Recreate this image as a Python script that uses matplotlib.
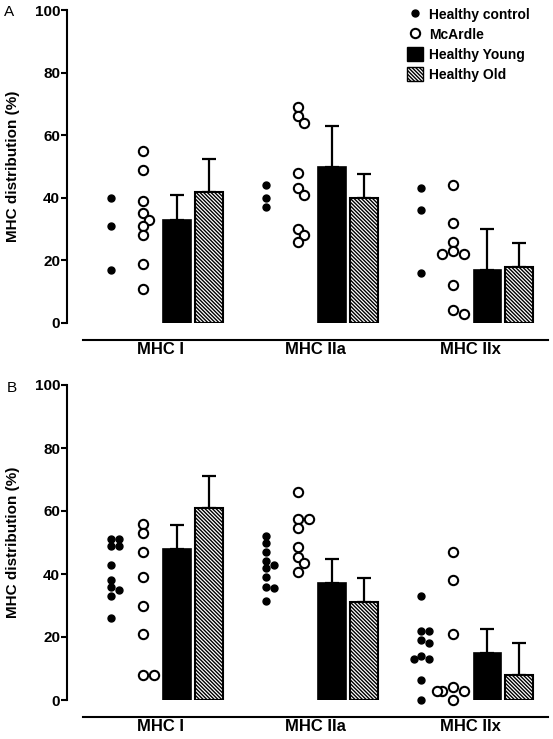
import numpy as np
import matplotlib

matplotlib.use("Agg")
import matplotlib.pyplot as plt
from matplotlib.lines import Line2D
from matplotlib.patches import Patch

plt.rcParams["font.family"] = ["Liberation Sans", "DejaVu Sans"]
plt.rcParams["hatch.linewidth"] = 1.0

categories = ["MHC I", "MHC IIa", "MHC IIx"]

# panel A
a_control = [[40, 31, 17], [44, 40, 37], [43, 36, 16]]
a_mcardle = [
    [55, 49, 39, 35, 33, 31, 28, 19, 11],
    [69, 66, 64, 48, 43, 41, 30, 28, 26],
    [44, 32, 26, 23, 22, 22, 12, 3, 4],
]
a_young_mean = [33, 50, 17]
a_young_sd = [8, 13, 13]
a_old_mean = [42, 40, 18]
a_old_sd = [10.5, 7.7, 7.5]

# panel B
b_control = [
    [51, 51, 49, 49, 43, 38, 36, 35, 33, 26],
    [52, 50, 47, 44, 43, 42, 39, 36, 35.5, 31.5],
    [33, 22, 22, 19, 18, 14, 13, 13, 6.5, 0],
]
b_mcardle = [
    [56, 53, 47, 39, 30, 21, 8, 8],
    [66, 57.5, 57.5, 54.5, 48.5, 45.5, 43.5, 40.5],
    [47, 38, 21, 4, 3, 3, 3, 0],
]
b_young_mean = [48, 37, 15]
b_young_sd = [7.6, 7.7, 7.5]
b_old_mean = [61, 31, 8]
b_old_sd = [10.1, 7.6, 10.2]

OFFS = {"ctrl": -0.316, "mca": -0.11, "young": 0.11, "old": 0.316}
BAR_W = 0.18
HATCH = "\\" * 9


def swarm_x(ax, center, values, diam_px):
    """Simple beeswarm: spread overlapping points sideways (pixel space)."""
    x0 = ax.transData.transform((center, 0))[0]
    x1 = ax.transData.transform((center + 1, 0))[0]
    px_per_unit = x1 - x0
    placed = []
    xs = np.zeros(len(values))
    order = np.argsort(values)[::-1]
    step = diam_px * 0.55
    for i in order:
        py = ax.transData.transform((center, values[i]))[1]
        for k in [0, 1, -1, 2, -2, 3, -3]:
            dx = k * step
            if all(np.hypot(dx - qx, py - qy) >= diam_px * 0.8 for qx, qy in placed):
                break
        placed.append((dx, py))
        xs[i] = center + dx / px_per_unit
    return xs


def draw_panel(ax, control, mcardle, young_mean, young_sd, old_mean, old_sd):
    ax.set_xlim(-0.6, 2.5)
    ax.set_ylim(0, 100)
    pos = np.arange(len(categories))

    ax.bar(pos + OFFS["young"], young_mean, BAR_W, color="black",
           edgecolor="black", linewidth=1.2, zorder=2)
    ax.bar(pos + OFFS["old"], old_mean, BAR_W, color="white",
           edgecolor="black", linewidth=1.5, hatch=HATCH, zorder=2)
    for off, m, s in [(OFFS["young"], young_mean, young_sd),
                      (OFFS["old"], old_mean, old_sd)]:
        ax.errorbar(pos + off, m, yerr=[np.zeros(len(m)), s], fmt="none",
                    ecolor="black", elinewidth=1.6, capsize=4.7, capthick=1.6,
                    zorder=1)

    for i in range(len(categories)):
        xs = swarm_x(ax, i + OFFS["ctrl"], control[i], 7)
        ax.plot(xs, control[i], "o", color="black", markersize=5,
                linestyle="none", zorder=3, clip_on=False)
        xs = swarm_x(ax, i + OFFS["mca"], mcardle[i], 10)
        ax.plot(xs, mcardle[i], "o", markerfacecolor="white",
                markeredgecolor="black", markeredgewidth=1.5, markersize=6.7,
                linestyle="none", zorder=3, clip_on=False)

    for side in ["top", "right"]:
        ax.spines[side].set_visible(False)
    ax.spines["left"].set_linewidth(1.5)
    ax.spines["bottom"].set_linewidth(1.5)
    ax.spines["bottom"].set_position(("outward", 12.2))
    ax.spines["bottom"].set_bounds(-0.5, 2.5)
    ax.set_yticks([0, 20, 40, 60, 80, 100])
    ax.tick_params(axis="y", length=4, width=1.5, pad=1, labelsize=11)
    for t in ax.get_yticklabels():
        t.set_fontweight("bold")
    ax.set_xticks(pos)
    ax.set_xticklabels(categories, fontsize=12, fontweight="bold")
    ax.tick_params(axis="x", length=0, pad=1.5)
    ax.set_ylabel("MHC distribution (%)", fontsize=11, fontweight="bold")
    ax.yaxis.set_label_coords(-0.098, 0.5)


fig = plt.figure(figsize=(5.53, 7.39), dpi=100)
ax_a = fig.add_axes([67 / 553, 1 - 323 / 739, 481 / 553, 313 / 739])
ax_b = fig.add_axes([67 / 553, 1 - 700 / 739, 481 / 553, 315 / 739])

draw_panel(ax_a, a_control, a_mcardle, a_young_mean, a_young_sd, a_old_mean, a_old_sd)
draw_panel(ax_b, b_control, b_mcardle, b_young_mean, b_young_sd, b_old_mean, b_old_sd)

fig.text(9 / 553, 1 - 12 / 739, "A", fontsize=11, ha="center", va="center")
fig.text(12 / 553, 1 - 388 / 739, "B", fontsize=11, ha="center", va="center")

handles = [
    Line2D([], [], marker="o", color="black", markersize=5, linestyle="none"),
    Line2D([], [], marker="o", markerfacecolor="white", markeredgecolor="black",
           markeredgewidth=1.5, markersize=6.7, linestyle="none"),
    Patch(facecolor="black", edgecolor="black"),
    Patch(facecolor="white", edgecolor="black", hatch=HATCH),
]
labels = ["Healthy control", "McArdle", "Healthy Young", "Healthy Old"]
fig.legend(handles, labels, loc="upper left", bbox_to_anchor=(407 / 553, 1 - 7 / 739),
           frameon=False, prop={"weight": "bold", "size": 10},
           handlelength=1.15, handleheight=1.15, handletextpad=0.45,
           labelspacing=0.4, borderpad=0, borderaxespad=0)

fig.savefig("out.png", dpi=100, facecolor="white")
plt.close(fig)
